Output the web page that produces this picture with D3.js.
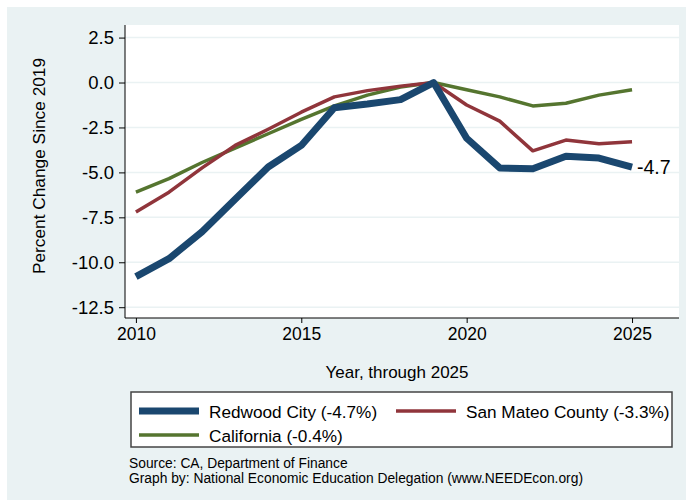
<!DOCTYPE html>
<html>
<head>
<meta charset="utf-8">
<script src="https://cdn.jsdelivr.net/npm/d3@7"></script>
<style>
  body { margin: 0; background: #fff; }
  svg text { font-family: "Liberation Sans", Arial, sans-serif; fill: #000; }
</style>
</head>
<body>
<svg id="chart" width="686" height="500"></svg>
<script>
const years = d3.range(2010, 2026)
const redwoodCity = [-10.8, -9.8, -8.3, -6.5, -4.7, -3.5, -1.4, -1.2, -0.95, 0, -3.1, -4.75, -4.8, -4.1, -4.2, -4.7]
const sanMateo = [-7.2, -6.1, -4.75, -3.5, -2.6, -1.65, -0.8, -0.45, -0.2, 0, -1.25, -2.15, -3.8, -3.2, -3.4, -3.3]
const california = [-6.1, -5.35, -4.45, -3.65, -2.85, -2.05, -1.3, -0.7, -0.25, 0, -0.4, -0.8, -1.3, -1.15, -0.7, -0.4]
const yTicks = [2.5, 0, -2.5, -5, -7.5, -10, -12.5]
const xTicks = [2010, 2015, 2020, 2025]

const series = [
  { key: 'Redwood City (-4.7%)', values: redwoodCity, color: '#1a476f', width: 7 },
  { key: 'San Mateo County (-3.3%)', values: sanMateo, color: '#90353b', width: 3.5 },
  { key: 'California (-0.4%)', values: california, color: '#55752f', width: 3.5 }
]

const svg = d3.select('#chart')
const fmt = v => d3.format('.1f')(v).replace('−', '-')

// outer graph region
svg.append('rect')
  .attr('x', 7).attr('y', 7)
  .attr('width', 679).attr('height', 493)
  .attr('fill', '#eaf2f3')

const plot = { left: 125, right: 679, top: 25, bottom: 318 }

const x = d3.scaleLinear()
  .domain([2009.67, 2026.42])
  .range([plot.left, plot.right])

const y = d3.scaleLinear()
  .domain([-13.1, 3.2])
  .range([plot.bottom, plot.top])

svg.append('rect')
  .attr('x', plot.left).attr('y', plot.top)
  .attr('width', plot.right - plot.left).attr('height', plot.bottom - plot.top)
  .attr('fill', '#fff')

// grid lines
svg.append('g')
  .selectAll('line')
  .data(yTicks)
  .join('line')
  .attr('x1', plot.left).attr('x2', plot.right)
  .attr('y1', d => y(d)).attr('y2', d => y(d))
  .attr('stroke', '#eaf2f3')
  .attr('stroke-width', 1.5)

const yAxis = svg.append('g')
  .attr('transform', `translate(${plot.left},0)`)
  .call(d3.axisLeft(y).tickValues(yTicks).tickFormat(fmt).tickSizeInner(6).tickSizeOuter(0).tickPadding(5))
yAxis.select('.domain').attr('stroke', '#000').attr('d', `M0,${plot.top}V${plot.bottom}`)
yAxis.selectAll('text').attr('font-size', 18.5).attr('font-family', null)

const xAxis = svg.append('g')
  .attr('transform', `translate(0,${plot.bottom})`)
  .call(d3.axisBottom(x).tickValues(xTicks).tickFormat(d3.format('d')).tickSizeInner(5).tickSizeOuter(0).tickPadding(5))
xAxis.select('.domain').attr('stroke', '#000').attr('d', `M${plot.left},0H${plot.right}`)
xAxis.selectAll('text').attr('font-size', 17.5).attr('font-family', null)

// lines, green first so blue sits on top
const line = d3.line()
  .x((d, i) => x(years[i]))
  .y(d => y(d))

svg.append('g')
  .selectAll('path')
  .data(series.slice().reverse())
  .join('path')
  .attr('d', d => line(d.values))
  .attr('fill', 'none')
  .attr('stroke', d => d.color)
  .attr('stroke-width', d => d.width)
  .attr('stroke-linejoin', 'round')

// end label for Redwood City
const lastVal = redwoodCity[redwoodCity.length - 1]
svg.append('text')
  .attr('x', x(2025) + 5)
  .attr('y', y(lastVal) + 7)
  .attr('font-size', 19.5)
  .text(fmt(lastVal))

// axis titles
svg.append('text')
  .attr('transform', 'translate(45,166) rotate(-90)')
  .attr('text-anchor', 'middle')
  .attr('font-size', 17.3)
  .text('Percent Change Since 2019')

svg.append('text')
  .attr('x', 397)
  .attr('y', 378)
  .attr('text-anchor', 'middle')
  .attr('font-size', 17)
  .text('Year, through 2025')

// legend
const legend = svg.append('g')
legend.append('rect')
  .attr('x', 131).attr('y', 392)
  .attr('width', 541).attr('height', 55)
  .attr('fill', '#fff')
  .attr('stroke', '#444')
  .attr('stroke-width', 1.5)

const legendPos = [[139, 411], [396, 411], [139, 435]]
const items = legend.selectAll('g.item')
  .data(series)
  .join('g')
  .attr('class', 'item')
  .attr('transform', (d, i) => `translate(${legendPos[i][0]},${legendPos[i][1]})`)
items.append('line')
  .attr('x1', 0).attr('x2', 60)
  .attr('stroke', d => d.color)
  .attr('stroke-width', d => d.width)
items.append('text')
  .attr('x', 70).attr('y', 6.5)
  .attr('font-size', 17.2)
  .text(d => d.key)

// notes
const notes = ['Source: CA, Department of Finance', 'Graph by: National Economic Education Delegation (www.NEEDEcon.org)']
svg.append('g')
  .selectAll('text')
  .data(notes)
  .join('text')
  .attr('x', 129)
  .attr('y', (d, i) => 468 + i * 15)
  .attr('font-size', 13.8)
  .text(d => d)
</script>
</body>
</html>
